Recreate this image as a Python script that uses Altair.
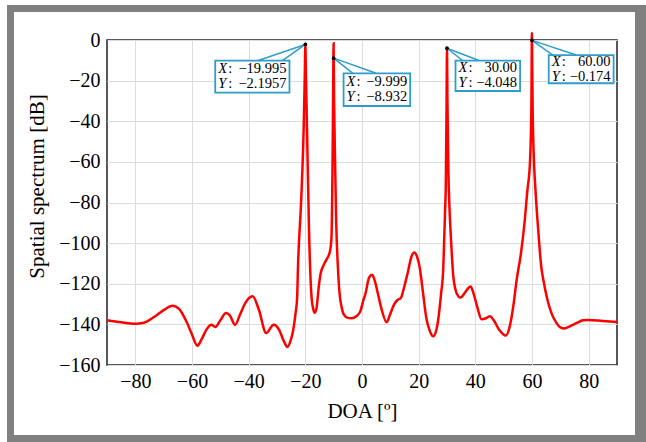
import altair as alt
import pandas as pd

# ---------------- data ----------------
doa = [-90, -85, -80, -77, -73.4, -70, -66.9, -64.5, -62, -60, -58.1, -56.5, -54.9, -53.1,
       -51.8, -50, -48, -46.6, -44.8, -43, -41.2, -38.6, -36.4, -33.8, -31.2, -29.3, -27.5,
       -26.3, -25.2, -24.3, -23.4, -22.9, -22.6, -21.4, -20.6, -20.2, -19.995, -19.8, -19.4,
       -18.7, -17.9, -17.2, -16.6, -16.0, -15.3, -14.6, -13.6, -12.5, -11.3, -10.8, -10.5,
       -10.3, -10.15, -10.03, -9.999, -9.85, -9.5, -9.1, -8.5, -7.9, -7.2, -6.5, -5, -3.6,
       -2, -0.6, 0.5, 1.2, 2.5, 3.6, 4.6, 5.7, 7, 8.7, 9.8, 11.3, 12.5, 13.7, 15, 16.1, 17.5,
       18.5, 19.5, 20.3, 21.5, 22.7, 24, 25.1, 26.2, 26.9, 27.9, 28.7, 29.3, 29.6, 29.85, 30.0,
       30.15, 30.5, 30.8, 31.3, 32.2, 33.0, 34.0, 34.9, 36.0, 37.3, 38.3, 39.3, 40.6, 42.2,
       43.8, 45.2, 46.5, 48.4, 50.8, 52.3, 53.5, 54.6, 56.1, 57.5, 58.3, 59.3, 59.8, 59.97,
       60.0, 60.2, 60.7, 61.06, 62.2, 63.3, 64.0, 65.3, 66.9, 68.5, 70, 71.3, 73, 75.8, 78,
       80, 85, 90]
spectrum = [-138.0, -139.0, -139.7, -139.2, -136.4, -133, -130.8, -132.5, -138.5, -145,
            -150.5, -147, -142.6, -140.2, -141.3, -138, -134.4, -135.7, -140.2, -135, -129.5,
            -126.2, -132.8, -144.3, -140.2, -142.6, -148.5, -151.1, -148, -143, -134, -127,
            -112, -77, -44, -18, -2.1957, -16, -44, -93.6, -124.7, -132.5, -134.3, -131.5,
            -122, -115, -111, -108, -104, -98, -75, -45, -18, -1.6, -8.932, -30, -60, -90,
            -112, -125, -131.5, -135, -136.8, -137, -136, -133.6, -128, -125, -117, -115.6,
            -119, -125.4, -133, -139, -135.5, -130.3, -128, -127, -121, -114.8, -106.5,
            -104.6, -107, -111.5, -124, -136.9, -143.5, -145.9, -143, -137.7, -125, -112,
            -85, -69, -30, -4.048, -30, -65, -80, -95, -116, -123, -126.2, -126.8, -125,
            -122.5, -121.3, -124.5, -131, -137.5, -137, -136, -138, -142.6, -145.5, -140,
            -130, -118, -105, -88, -75, -60, -30, 3.5, -0.174, -30, -60, -70, -93.6, -112,
            -118, -127, -134.6, -139, -141.5, -142, -141.2, -139.3, -138, -137.8, -138.3,
            -138.8]

x_ticks = [-80, -60, -40, -20, 0, 20, 40, 60, 80]
y_ticks = [-160, -140, -120, -100, -80, -60, -40, -20, 0]

tip_x = [-19.995, -9.999, 30.00, 60.00]
tip_y = [-2.1957, -8.932, -4.048, -0.174]
tip_xtext = ["\u221219.995", "\u22129.999", "30.00", "60.00"]
tip_ytext = ["\u22122.1957", "\u22128.932", "\u22124.048", "\u22120.174"]
box_x1 = [-51.8, -6.5, 33.0, 65.9]
box_x2 = [-25.6, 17.0, 55.8, 88.8]
box_y1 = [-10.2, -16.4, -10.2, -7.4]
box_y2 = [-25.9, -32.5, -25.1, -21.3]
wedge_xa = [-36.9, -3.2, 35.6, 67.4]
wedge_xb = [-28.1, 5.0, 41.5, 75.6]

# ---------------- tables ----------------
curve = pd.DataFrame({"doa": doa, "spec": spectrum})
tips = pd.DataFrame({
    "tx": tip_x, "ty": tip_y, "xt": tip_xtext, "yt": tip_ytext,
    "bx1": box_x1, "bx2": box_x2, "by1": box_y1, "by2": box_y2,
    "wa": wedge_xa, "wb": wedge_xb,
})
tips["bc"] = (tips["by1"] + tips["by2"]) / 2

FONT = "Liberation Serif"
TIPC = "#2f9dcb"

xscale = alt.Scale(domain=[-90, 90], nice=False, zero=False)
yscale = alt.Scale(domain=[-160, 0], nice=False, zero=False)
xaxis = alt.Axis(values=x_ticks, title="DOA [\u00ba]", grid=True, ticks=False, domain=False,
                 labelPadding=6, titleY=46, titleBaseline="middle")
yaxis = alt.Axis(values=y_ticks, title="Spatial spectrum [dB]", grid=True, ticks=False,
                 domain=False, labelPadding=7, titleX=-70, titleY=146,
                 titleBaseline="middle", titleAngle=-90)


def X(f):
    return alt.X(f, type="quantitative", scale=xscale, axis=xaxis)


def Y(f):
    return alt.Y(f, type="quantitative", scale=yscale, axis=yaxis)


one = alt.Data(values=[{"a": 1}])

frame = alt.Chart(one).mark_rect(fill="white", fillOpacity=0, stroke="#808080",
                                 strokeWidth=7).encode(
    x=alt.value(-96.5), x2=alt.value(531.5), y=alt.value(-31.5), y2=alt.value(398.5))
frame_r = alt.Chart(one).mark_rule(color="#808080", strokeWidth=7).encode(
    x=alt.value(535.5), y=alt.value(-35), y2=alt.value(402))

line = alt.Chart(curve).mark_line(color="#ff0000", strokeWidth=2.5, interpolate="monotone",
                                  clip=False).encode(x=X("doa"), y=Y("spec"))

wedge_a = alt.Chart(tips).mark_rule(color=TIPC, strokeWidth=1.5).encode(
    x=X("tx"), y=Y("ty"), x2="wa", y2="by1")
wedge_b = alt.Chart(tips).mark_rule(color=TIPC, strokeWidth=1.5).encode(
    x=X("tx"), y=Y("ty"), x2="wb", y2="by1")
boxes = alt.Chart(tips).mark_rect(fill="white", stroke=TIPC, strokeWidth=1.8).encode(
    x=X("bx1"), x2="bx2", y=Y("by1"), y2="by2")
dots = alt.Chart(tips).mark_circle(color="black", size=14, opacity=1).encode(
    x=X("tx"), y=Y("ty"))

DY = 7.4
tstyle = dict(font=FONT, fontSize=14.5, color="black", baseline="middle")
lx = alt.Chart(tips).mark_text(align="left", dx=3, dy=-DY, fontStyle="italic", text="X",
                               **tstyle).encode(x=X("bx1"), y=Y("bc"))
ly = alt.Chart(tips).mark_text(align="left", dx=3, dy=DY, fontStyle="italic", text="Y",
                               **tstyle).encode(x=X("bx1"), y=Y("bc"))
cx = alt.Chart(tips).mark_text(align="left", dx=13, dy=-DY, text=":", **tstyle).encode(
    x=X("bx1"), y=Y("bc"))
cy = alt.Chart(tips).mark_text(align="left", dx=13, dy=DY, text=":", **tstyle).encode(
    x=X("bx1"), y=Y("bc"))
vx = alt.Chart(tips).mark_text(align="right", dx=-3, dy=-DY, **tstyle).encode(
    x=X("bx2"), y=Y("bc"), text="xt:N")
vy = alt.Chart(tips).mark_text(align="right", dx=-3, dy=DY, **tstyle).encode(
    x=X("bx2"), y=Y("bc"), text="yt:N")

chart = alt.layer(frame, frame_r, line, wedge_a, wedge_b, boxes, dots, lx, ly, cx, cy, vx, vy
                  ).properties(
    width=510, height=325,
    autosize=alt.AutoSizeParams(type="none"),
    padding={"left": 107, "top": 40, "right": 29, "bottom": 77},
    background="white",
).configure_view(
    stroke="#222222", strokeWidth=1.5
).configure_axis(
    labelFont=FONT, titleFont=FONT, labelFontSize=20, titleFontSize=21,
    labelColor="black", titleColor="black", titleFontWeight="normal",
    gridColor="#dcdcdc", gridWidth=1,
)

chart.save("out.html", embed_options={"renderer": "svg", "actions": False})
